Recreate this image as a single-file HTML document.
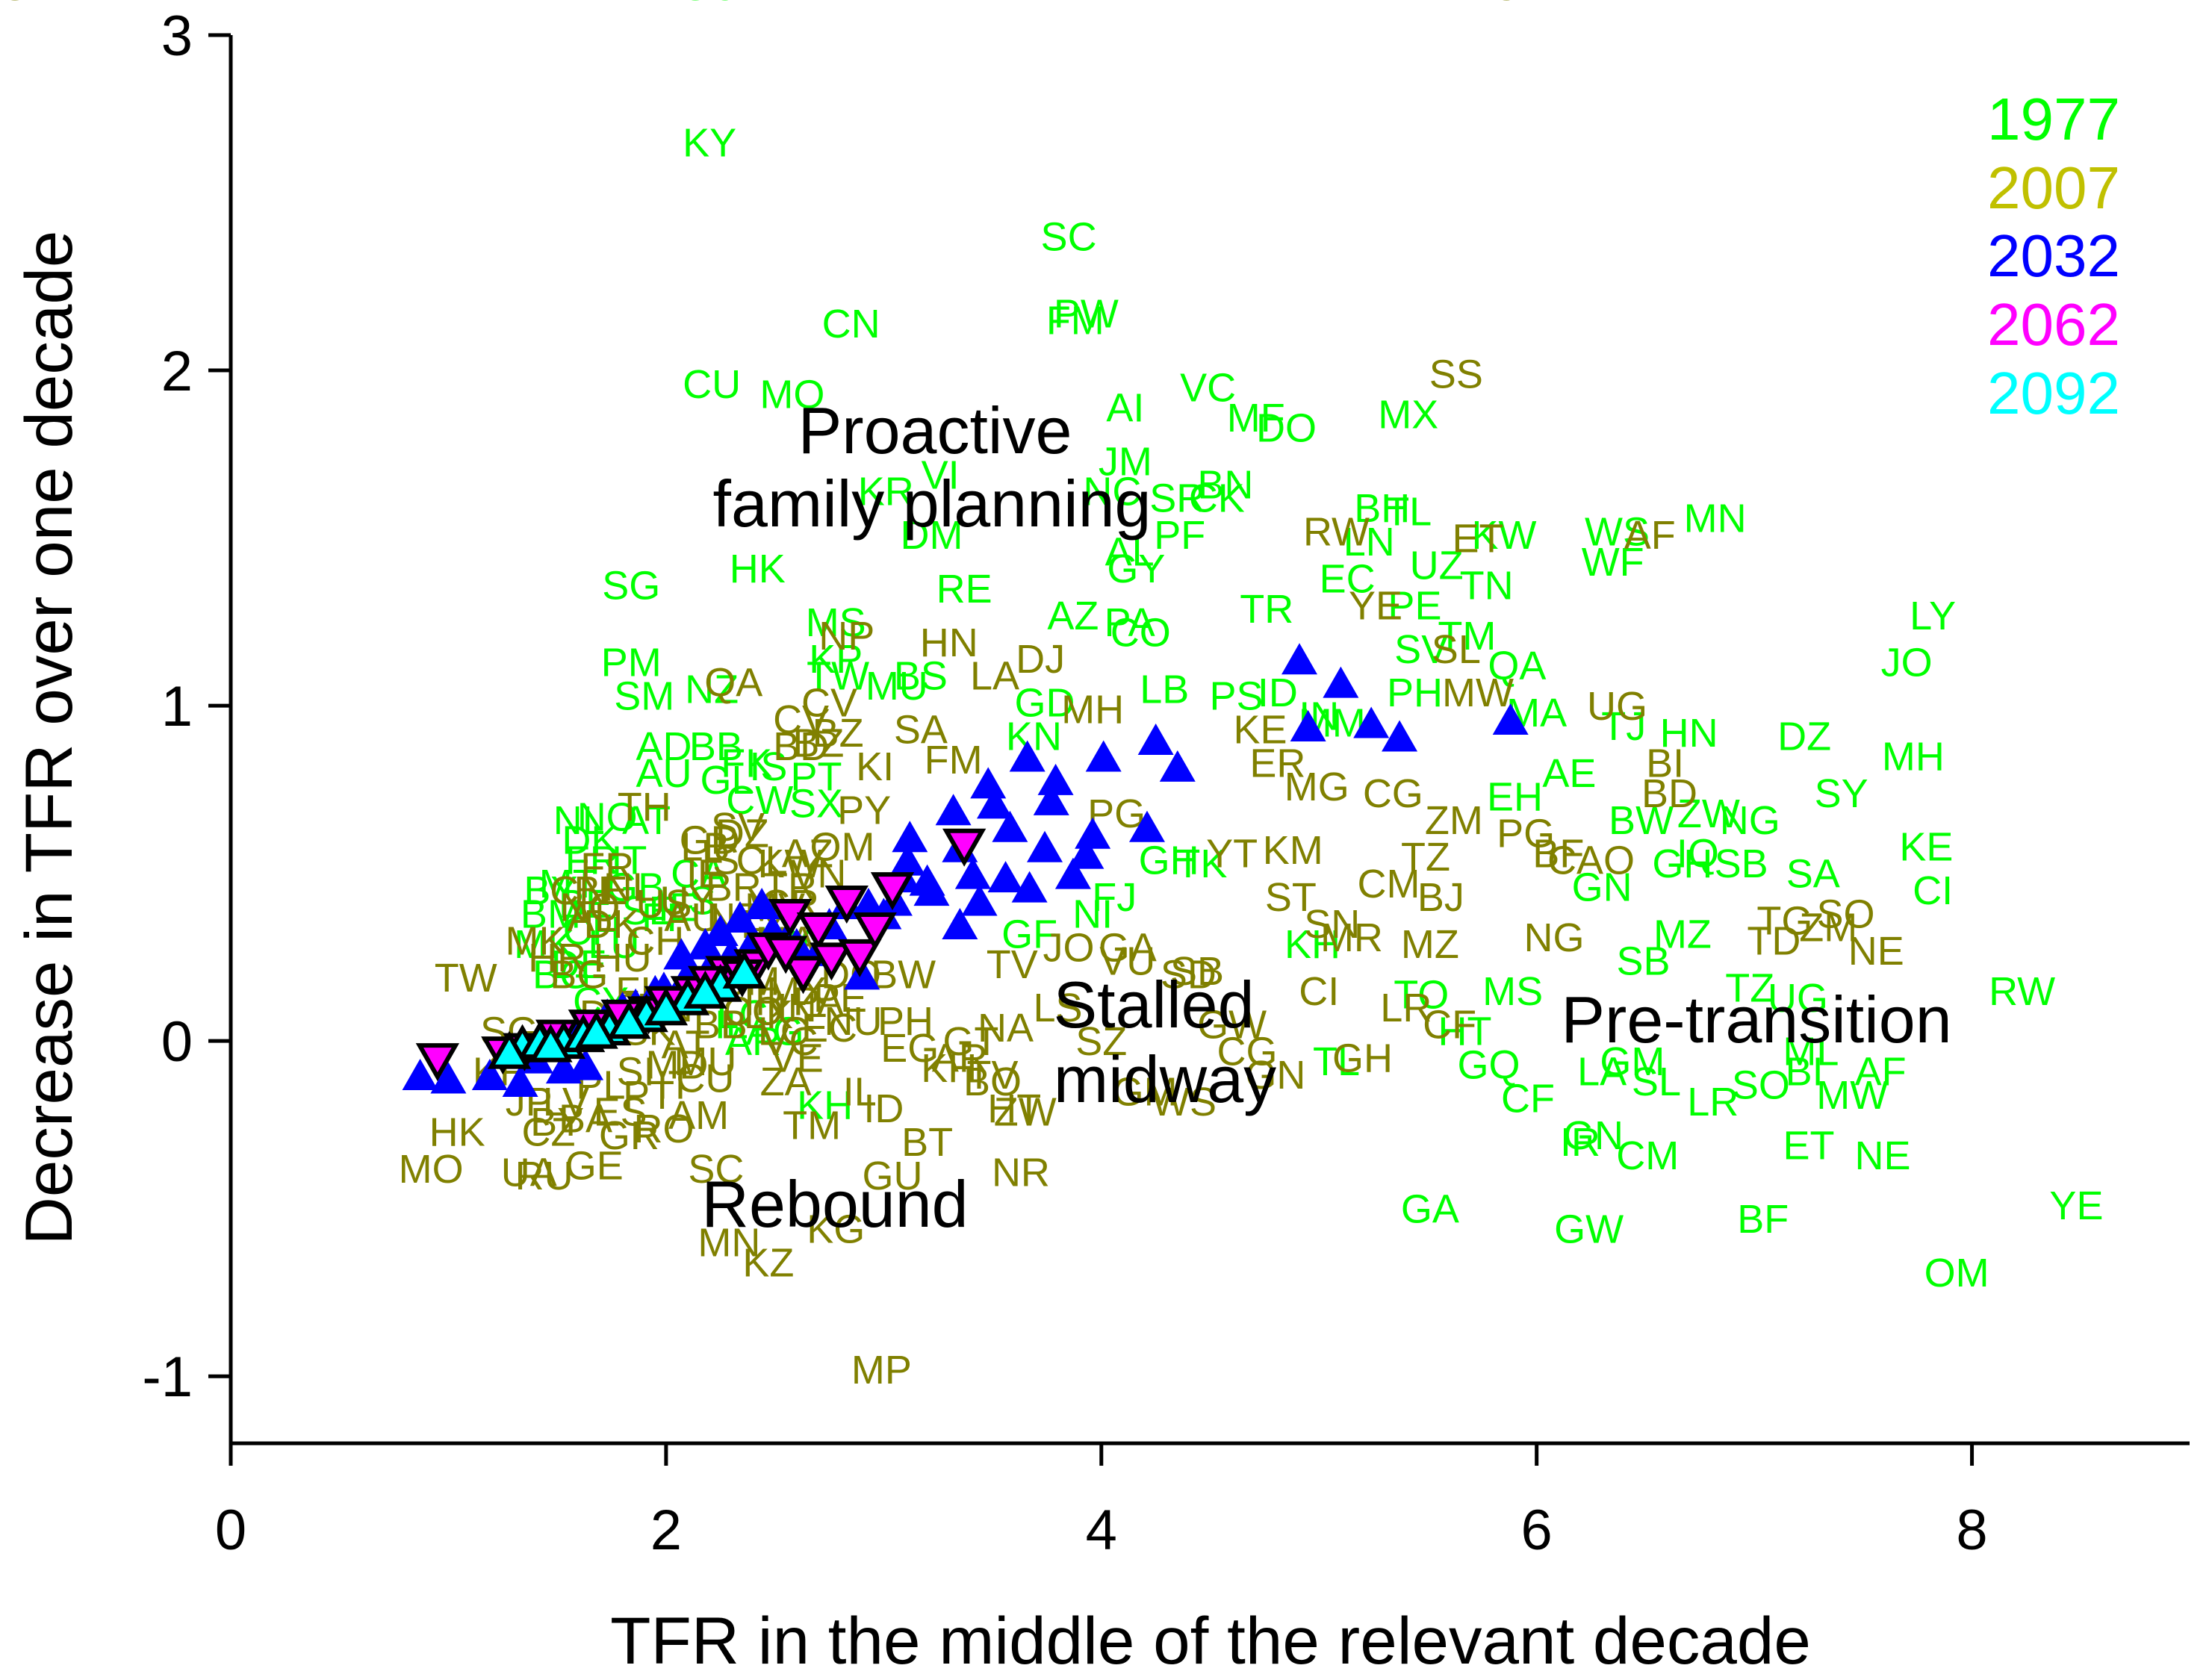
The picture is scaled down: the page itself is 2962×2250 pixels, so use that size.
<!DOCTYPE html>
<html><head><meta charset="utf-8"><style>
html,body{margin:0;padding:0;background:#fff;}
svg{display:block;font-family:"Liberation Sans",Arial,sans-serif;}
</style></head><body>
<svg id="chart" width="2962" height="2250" viewBox="0 0 2962 2250" xmlns="http://www.w3.org/2000/svg">
<g id="labels77"></g>
<g id="labels07"></g>
<g id="m32"></g>
<g id="m62"></g>
<g id="m92"></g>
<g id="axes"></g>
<g id="annot" font-size="88" fill="#000">
<text x="1252" y="607" text-anchor="middle">Proactive</text>
<text x="1248" y="705" text-anchor="middle">family planning</text>
<text x="1545" y="1376" text-anchor="middle">Stalled</text>
<text x="1560" y="1476" text-anchor="middle">midway</text>
<text x="2352" y="1396" text-anchor="middle">Pre-transition</text>
<text x="1118" y="1643" text-anchor="middle">Rebound</text>
</g>
<g id="legend" font-size="80" text-anchor="middle">
<text x="2750" y="187" fill="#00ff00">1977</text>
<text x="2750" y="279" fill="#c0c000">2007</text>
<text x="2750" y="370" fill="#0000ff">2032</text>
<text x="2750" y="462" fill="#ff00ff">2062</text>
<text x="2750" y="554" fill="#00ffff">2092</text>
</g>
</svg>
<script>
// ---- data ----
const codes77=["KY","SC","PW","FM","CN","CU","MO","AI","VC","MF","DO","MX","JM","VI","KR","NC","SR","BN","CK","DM","BH","TL","LN","KW","WS","MN","WF","PF","AL","GY","HK","SG","RE","EC","UZ","TN","TR","AZ","PA","CO","PE","TM","SV","MS","KP","TW","PM","NZ","SM","MU","BS","QA","LY","JO","LB","PS","ID","PH","MA","HN","DZ","MH","AE","SY","KE","CI","SA","GH","IQ","SB","GN","BW","ZW","NG","SB","MZ","TZ","UG","RW","ML","AF","BI","MW","NE","ET","YE","OM","BF","GA","GW","CM","GN","IR","LR","SL","LA","GM","SO","CF","GQ","HT","TL","TO","MS","KH","TK","GH","FJ","NI","GF","GD","KN","EH","KH","IN","MM","TJ","AD","BB","AU","GL","IS","FK","CW","SX","PT","NL","NO","DK","AT","IT","BE","BM","FR","GB","FI","CH","DE","LU","MK","SE","BG","BY","IE","CA","US","MT","CY","IL","AR","UY","CL","LC","AG","GU","TT"];
const x77=[2.20,3.85,3.93,3.88,2.85,2.21,2.58,4.11,4.49,4.71,4.85,5.41,4.11,3.26,3.01,4.05,4.35,4.57,4.53,3.22,5.29,5.41,5.23,5.85,6.37,6.82,6.35,4.36,4.13,4.16,2.42,1.84,3.37,5.13,5.54,5.77,4.76,3.87,4.13,4.18,5.44,5.68,5.47,2.78,2.78,2.79,1.84,2.21,1.90,3.06,3.17,5.91,7.82,7.70,4.29,4.62,4.81,5.44,6.00,6.70,7.23,7.73,6.15,7.40,7.79,7.82,7.27,6.67,6.74,6.94,6.30,6.48,6.79,6.98,6.49,6.67,6.98,7.20,8.23,7.26,7.58,7.23,7.45,7.59,7.25,8.48,7.93,7.04,5.51,6.24,6.51,6.26,6.20,6.81,6.55,6.30,6.44,7.03,5.96,5.78,5.67,5.08,5.47,5.89,2.73,4.46,4.31,4.06,3.96,3.67,3.74,3.69,5.90,4.97,5.00,5.06,6.40,1.99,2.23,1.99,2.28,2.47,2.37,2.43,2.69,2.69,1.60,1.73,1.65,1.91,1.83,1.63,1.47,1.66,1.86,1.97,1.66,1.60,1.76,1.44,1.92,1.52,1.47,2.05,2.15,2.10,1.55,1.70,2.30,2.40,2.55,2.60,2.35,2.50,2.20,2.45];
const y77=[2.68,2.40,2.17,2.15,2.14,1.96,1.93,1.89,1.95,1.86,1.83,1.87,1.73,1.69,1.64,1.64,1.62,1.66,1.62,1.51,1.59,1.58,1.49,1.51,1.52,1.56,1.43,1.51,1.46,1.41,1.41,1.36,1.35,1.38,1.42,1.36,1.29,1.27,1.25,1.22,1.30,1.21,1.17,1.25,1.14,1.09,1.13,1.05,1.03,1.06,1.09,1.12,1.27,1.13,1.05,1.03,1.04,1.04,0.98,0.92,0.91,0.85,0.80,0.74,0.58,0.45,0.50,0.53,0.56,0.53,0.46,0.66,0.68,0.66,0.24,0.32,0.16,0.13,0.15,-0.03,-0.09,-0.09,-0.16,-0.34,-0.31,-0.49,-0.69,-0.53,-0.50,-0.56,-0.34,-0.28,-0.30,-0.18,-0.12,-0.09,-0.06,-0.13,-0.17,-0.07,0.03,-0.06,0.14,0.15,-0.19,0.53,0.54,0.43,0.38,0.32,1.01,0.91,0.73,0.29,0.97,0.95,0.94,0.88,0.88,0.80,0.78,0.82,0.83,0.72,0.71,0.79,0.66,0.67,0.60,0.66,0.54,0.41,0.38,0.54,0.46,0.37,0.33,0.23,0.29,0.29,0.39,0.20,0.45,0.40,0.50,0.42,0.47,0.12,0.05,0.00,0.30,0.28,0.08,0.03];

const codes07=["SS","RW","ET","AF","YE","SL","MW","UG","BI","BD","HN","LA","DJ","CV","MH","SA","KE","ER","MG","CG","ZM","PG","BF","CAO","KM","YT","TZ","CM","BJ","ST","SN","MR","MZ","NG","TD","ZM","SO","NE","TG","PG","OM","SV","PY","BD","BZ","BW","TV","JO","VU","SB","GA","NU","NA","EG","AR","TV","ZW","TM","IL","ZA","CG","WS","GU","NR","SC","MN","KZ","KG","MP","HK","MO","UA","RU","GE","TW","BY","CZ","LV","BA","PL","ES","PT","SI","RO","GR","IT","AM","MD","CU","SK","KR","JP","SG","LT","DE","AT","MU","BB","VC","LK","LC","FR","NL","US","IE","AU","NZ","IS","CL","KW","BR","TR","AL","CR","VN","LB","NP","QA","FM","CV","BZ","KI","HR","MK","BG","HU","CH","BE","DK","FI","SE","NO","UY","TT","JM","TN","IR","MA","DZ","TH","CN","AZ","GD","MV","PE","LY","EC","VE","MX","CO","DO","PA","IN","ID","PH","BT","KH","GT","BO","HT","LS","SZ","GM","SD","GW","GN","CI","GH","LR","CF","AO","CD","ML","UG"];
const x07=[5.63,5.08,5.73,6.52,5.26,5.63,5.73,6.37,6.59,6.61,3.30,3.51,3.72,2.75,3.96,3.17,4.73,4.81,4.99,5.34,5.62,5.95,6.10,6.25,4.88,4.60,5.49,5.32,5.56,4.87,5.06,5.15,5.51,6.08,7.09,7.34,7.42,7.56,7.14,4.07,2.81,2.33,2.91,2.62,2.79,3.09,3.59,3.85,4.12,4.44,4.12,2.86,3.56,3.12,3.35,3.50,3.65,2.67,2.89,2.55,4.67,4.38,3.04,3.63,2.23,2.29,2.47,2.78,2.99,1.04,0.92,1.37,1.44,1.67,1.08,1.50,1.46,1.54,1.63,1.70,1.79,1.92,1.86,1.99,1.83,2.04,2.15,2.05,2.18,1.92,1.24,1.37,1.28,1.54,1.73,2.09,2.18,2.25,2.57,2.47,2.54,1.73,1.83,1.99,2.18,2.12,2.31,2.25,2.44,2.57,2.31,2.57,1.66,2.57,2.70,2.18,2.83,2.31,3.32,2.62,2.70,2.96,1.50,1.40,1.60,1.80,1.95,1.70,1.75,1.85,1.90,1.65,2.10,2.30,2.40,2.00,2.45,2.55,2.35,1.90,1.60,2.65,2.20,2.50,2.80,2.45,2.75,2.60,2.60,2.40,2.85,2.70,2.60,3.00,3.10,3.20,3.30,3.40,3.50,3.60,3.80,4.00,4.20,4.40,4.60,4.80,5.00,5.20,5.40,5.60,5.80];
const y07=[1.99,1.52,1.50,1.51,1.30,1.17,1.04,1.00,0.83,0.74,1.19,1.09,1.14,1.01,0.99,0.93,0.93,0.83,0.76,0.74,0.66,0.62,0.56,0.54,0.57,0.56,0.55,0.47,0.43,0.43,0.35,0.31,0.29,0.31,0.30,0.34,0.38,0.27,0.36,0.68,0.58,0.64,0.69,0.88,0.92,0.20,0.23,0.28,0.24,0.21,0.28,0.06,0.04,-0.02,-0.05,-0.10,-0.21,-0.25,-0.15,-0.12,-0.03,-0.18,-0.40,-0.39,-0.38,-0.60,-0.66,-0.56,-0.98,-0.27,-0.38,-0.39,-0.40,-0.37,0.19,-0.24,-0.27,-0.18,-0.23,-0.13,-0.21,-0.16,-0.09,-0.26,-0.28,-0.13,-0.22,-0.07,-0.11,0.03,-0.09,-0.18,0.03,-0.01,0.08,-0.01,-0.06,0.05,0.00,0.08,0.03,0.52,0.46,0.41,0.50,0.37,0.37,0.54,0.54,0.53,0.46,0.46,0.37,0.41,0.50,0.58,1.21,1.07,0.84,0.96,0.89,0.82,0.25,0.30,0.20,0.25,0.30,0.45,0.35,0.15,0.10,0.40,0.42,0.20,0.18,0.10,0.12,0.30,0.62,0.70,0.45,0.56,0.60,0.40,0.13,0.35,0.04,-0.05,0.15,0.09,0.20,0.12,0.10,-0.20,0.06,-0.30,-0.08,0.00,-0.12,-0.20,0.10,0.00,-0.15,0.20,0.05,-0.10,0.15,-0.05,0.10,0.05];

const x32=[0.87,1.00,1.19,1.33,1.53,1.63,1.53,1.73,1.86,1.99,2.07,2.18,2.25,2.34,2.44,2.49,2.60,2.70,2.83,2.90,2.93,3.09,3.12,3.11,3.22,3.32,3.35,3.41,3.35,3.44,3.48,3.51,3.56,3.58,3.66,3.67,3.74,3.77,3.79,3.87,3.93,3.96,4.01,4.21,4.25,4.35,4.91,5.10,4.95,5.24,5.37,5.88,1.40,1.60,1.80,1.95,2.10,2.30,2.55,2.75,3.00,3.20,3.05,2.20,2.40];
const y32=[-0.10,-0.11,-0.10,-0.12,-0.08,-0.07,0.01,0.08,0.11,0.16,0.26,0.29,0.33,0.37,0.41,0.33,0.29,0.27,0.41,0.20,0.41,0.49,0.61,0.54,0.45,0.69,0.58,0.50,0.35,0.42,0.77,0.71,0.49,0.64,0.85,0.46,0.58,0.72,0.78,0.50,0.56,0.62,0.85,0.64,0.90,0.82,1.14,1.07,0.94,0.95,0.91,0.96,-0.05,0.02,0.10,0.15,0.20,0.26,0.30,0.35,0.38,0.48,0.42,0.22,0.30];

const x62=[0.95,1.25,1.92,2.12,2.28,2.41,2.47,2.57,2.63,2.70,2.76,2.83,2.89,2.96,3.04,3.37,1.35,1.50,1.65,1.80,2.00,2.20,2.35,2.55];
const y62=[-0.06,-0.04,0.08,0.14,0.20,0.22,0.27,0.37,0.20,0.33,0.24,0.41,0.25,0.33,0.45,0.58,-0.03,0.01,0.04,0.07,0.11,0.17,0.19,0.26];

const x92=[1.34,1.53,1.74,1.91,2.10,2.25,2.36,1.42,1.62,1.83,2.00,2.18,1.28,1.47,1.68];
const y92=[-0.01,0.00,0.04,0.08,0.13,0.17,0.21,0.00,0.02,0.06,0.10,0.15,-0.03,-0.01,0.03];

const xTicks=[0,2,4,6,8];
const yTicks=[-1,0,1,2,3];

// ---- scales ----
const L=309,R=2932,T=47,B=1933,XMIN=0,XMAX=9,YMIN=-1.2,YMAX=3;
const sx=v=>L+(v-XMIN)/(XMAX-XMIN)*(R-L);
const sy=v=>B-(v-YMIN)/(YMAX-YMIN)*(B-T);
const NS="http://www.w3.org/2000/svg";
function mk(tag,parent){const e=document.createElementNS(NS,tag);parent.appendChild(e);return e;}

function drawLabels(gid,codes,xs,ys,color,name){
  const g=document.getElementById(gid);
  for(let i=0;i<codes.length;i++){
    const t=mk('text',g);
    
    
    t.setAttribute('x',sx(xs[i]));t.setAttribute('y',sy(ys[i])+19);
    t.setAttribute('text-anchor','middle');t.setAttribute('font-size','54');
    t.setAttribute('fill',color);t.textContent=codes[i];
  }
}
drawLabels('labels77',codes77,x77,y77,'#00ff00','label-1977');
drawLabels('labels07',codes07,x07,y07,'#808000','label-2007');

function tri(gid,xs,ys,fill,stroke,down,name){
  const g=document.getElementById(gid);
  const w=24,h=42;
  for(let i=0;i<xs.length;i++){
    const cx=sx(xs[i]),cy=sy(ys[i]);
    const p=mk('polygon',g);
    
    
    const pts=down?[[cx-w,cy-h/2],[cx+w,cy-h/2],[cx,cy+h/2]]:[[cx,cy-h/2],[cx+w,cy+h/2],[cx-w,cy+h/2]];
    p.setAttribute('points',pts.map(q=>q.join(',')).join(' '));
    p.setAttribute('fill',fill);
    if(stroke){p.setAttribute('stroke',stroke);p.setAttribute('stroke-width','6');p.setAttribute('stroke-linejoin','miter');}
  }
}
tri('m32',x32,y32,'#0000ff',null,false,'marker-2032');
tri('m62',x62,y62,'#ff00ff','#000',true,'marker-2062');
tri('m92',x92,y92,'#00ffff','#000',false,'marker-2092');

// axes
const ax=document.getElementById('axes');
const yl=mk('line',ax);


yl.setAttribute('x1',L);yl.setAttribute('x2',L);yl.setAttribute('y1',T);yl.setAttribute('y2',B+30);
yl.setAttribute('stroke','#000');yl.setAttribute('stroke-width','5');
const xl=mk('line',ax);


xl.setAttribute('x1',L-2);xl.setAttribute('x2',R);xl.setAttribute('y1',B);xl.setAttribute('y2',B);
xl.setAttribute('stroke','#000');xl.setAttribute('stroke-width','5');
xTicks.forEach(v=>{
  const l=mk('line',ax);
  
  
  l.setAttribute('x1',sx(v));l.setAttribute('x2',sx(v));l.setAttribute('y1',B);l.setAttribute('y2',B+30);
  l.setAttribute('stroke','#000');l.setAttribute('stroke-width','5');
  const t=mk('text',ax);
  
  
  t.setAttribute('x',sx(v));t.setAttribute('y',2075);t.setAttribute('text-anchor','middle');
  t.setAttribute('font-size','76');t.textContent=v;
});
yTicks.forEach(v=>{
  const l=mk('line',ax);
  
  
  l.setAttribute('x1',L-30);l.setAttribute('x2',L);l.setAttribute('y1',sy(v));l.setAttribute('y2',sy(v));
  l.setAttribute('stroke','#000');l.setAttribute('stroke-width','5');
  const t=mk('text',ax);
  
  
  t.setAttribute('x',258);t.setAttribute('y',sy(v)+27);t.setAttribute('text-anchor','end');
  t.setAttribute('font-size','76');t.textContent=v;
});
const xt=mk('text',ax);


xt.setAttribute('x',1621);xt.setAttribute('y',2228);xt.setAttribute('text-anchor','middle');
xt.setAttribute('font-size','89');xt.textContent='TFR in the middle of the relevant decade';
const yt=mk('text',ax);


yt.setAttribute('x',0);yt.setAttribute('y',0);yt.setAttribute('text-anchor','middle');
yt.setAttribute('transform','translate(96,988) rotate(-90)');
yt.setAttribute('font-size','89');yt.textContent='Decrease in TFR over one decade';
</script>
</body></html>
